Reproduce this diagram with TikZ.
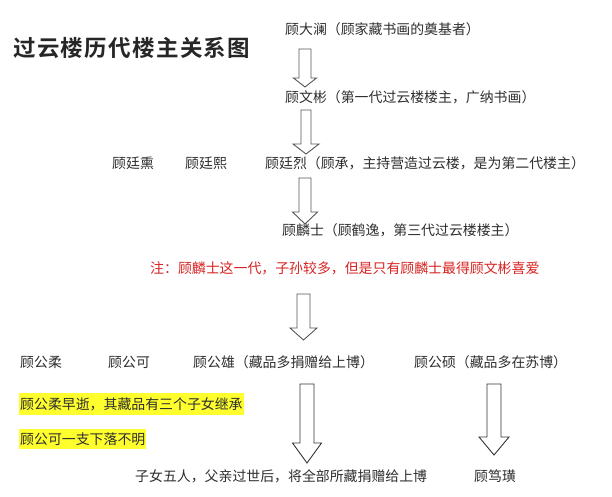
\documentclass[tikz,border=0pt]{standalone}
\usepackage{fontspec}
\newfontfamily\cjk{Noto Sans CJK SC}
\newfontfamily\cjkbold{Noto Sans CJK SC Bold}
\definecolor{txt}{HTML}{2E2E2E}
\definecolor{note}{HTML}{D92323}
\definecolor{hl}{HTML}{FFFF2E}
\definecolor{arr}{HTML}{555555}
\newcommand{\blockarrow}[7][arr]{%
  \draw[draw=#1, line width=0.9pt, fill=white, line join=miter]
    (#2-#3,#4) -- (#2+#3,#4) -- (#2+#3,#6) -- (#2+#5,#6) -- (#2,#7)
    -- (#2-#5,#6) -- (#2-#3,#6) -- cycle;}
\begin{document}
\begin{tikzpicture}[x=1pt,y=-1pt,
  lbl/.style={anchor=west, inner sep=0pt, text=txt, font=\cjk\fontsize{13.9}{14}\selectfont},
  hlbox/.style={lbl, fill=hl, inner ysep=4pt, inner xsep=1pt}]
\useasboundingbox[fill=white] (0,0) rectangle (612,497);
% title
\node[anchor=west, inner sep=0pt, text=black!85, font=\cjkbold\addfontfeature{LetterSpace=6}\fontsize{22.5}{24}\selectfont] (title) at (13,48) {过云楼历代楼主关系图};
% lineage
\node[lbl] (dalan) at (285,29) {顾大澜（顾家藏书画的奠基者）};
\node[lbl] (wenbin) at (285,97) {顾文彬（第一代过云楼楼主，广纳书画）};
\node[lbl] (tingxun) at (112,163) {顾廷熏};
\node[lbl] (tingxi) at (185,163) {顾廷熙};
\node[lbl] (tinglie) at (265,163) {顾廷烈（顾承，主持营造过云楼，是为第二代楼主）};
\node[lbl] (linshi) at (282,230) {顾麟士（顾鹤逸，第三代过云楼楼主）};
\node[lbl, text=note] (note) at (150,268) {注：顾麟士这一代，子孙较多，但是只有顾麟士最得顾文彬喜爱};
\node[lbl] (gongrou) at (20,362) {顾公柔};
\node[lbl] (gongke) at (108,362) {顾公可};
\node[lbl] (gongxiong) at (193,362) {顾公雄（藏品多捐赠给上博）};
\node[lbl] (gongshuo) at (414,362) {顾公硕（藏品多在苏博）};
\node[hlbox] (rounote) at (19,404) {顾公柔早逝，其藏品有三个子女继承};
\node[hlbox] (kenote) at (19,439) {顾公可一支下落不明};
\node[lbl] (children) at (135,476) {子女五人，父亲过世后，将全部所藏捐赠给上博};
\node[lbl] (duhuang) at (474,476) {顾笃璜};
% arrows
\blockarrow{305}{6}{49}{11.5}{78}{87}
\blockarrow{306}{5}{110}{13}{144}{154}
\blockarrow{305}{6}{178}{12.5}{212}{224}
\blockarrow{303.5}{6.5}{294}{13.5}{328}{340}
\blockarrow[black!80]{307}{7}{384}{14.5}{443}{463}
\blockarrow[black!80]{494}{7}{384}{15}{437}{455}
\end{tikzpicture}
\end{document}
